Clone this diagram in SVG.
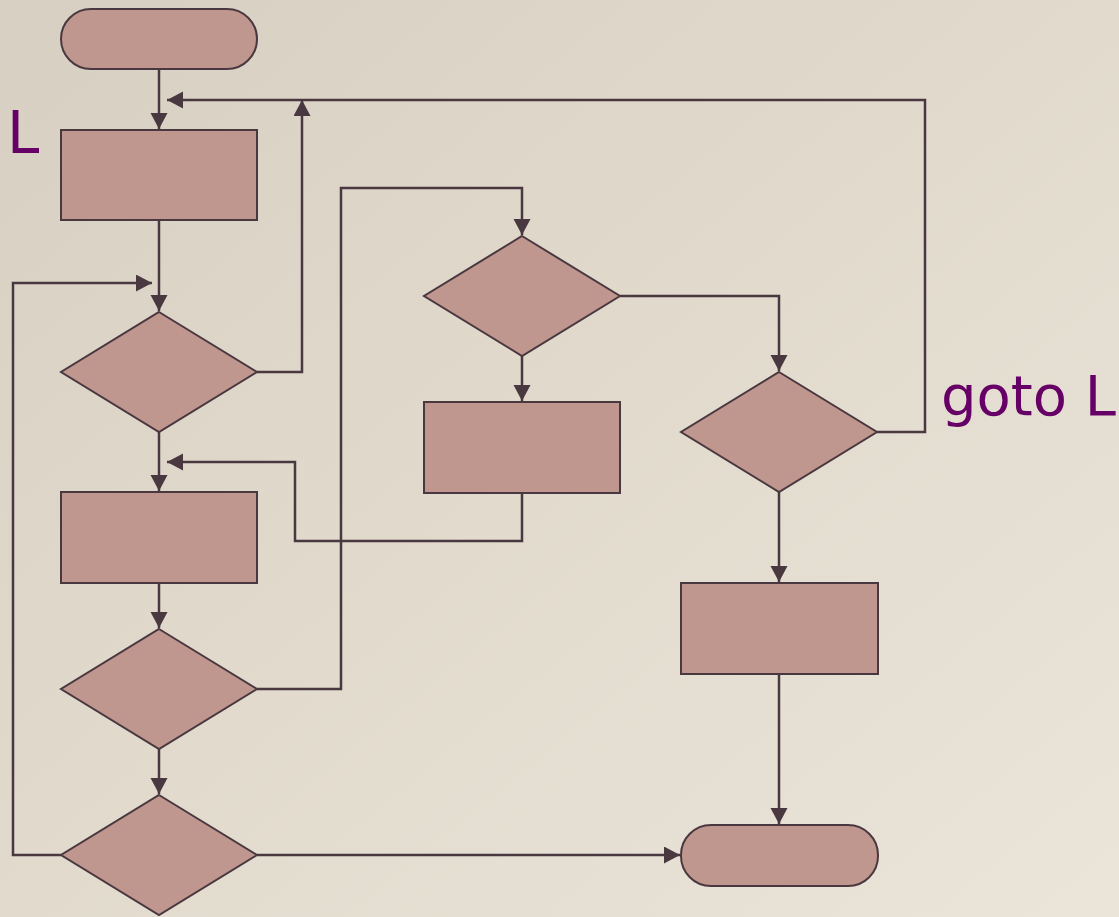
<svg xmlns="http://www.w3.org/2000/svg" width="1119" height="917" viewBox="0 0 1119 917">
  <defs>
    <linearGradient id="bg" x1="0" y1="0" x2="1" y2="1">
      <stop offset="0" stop-color="#d6cfc2"/>
      <stop offset="0.5" stop-color="#e1dacd"/>
      <stop offset="1" stop-color="#ebe4d9"/>
    </linearGradient>
    <marker id="arr" markerUnits="userSpaceOnUse" markerWidth="20" markerHeight="20" refX="16" refY="8.5" orient="auto">
      <path d="M0,0 L16,8.5 L0,17 z" fill="#4a3840"/>
    </marker>
  </defs>
  <style>
    .shape { fill: #c0978e; stroke: #4a3840; stroke-width: 2; }
    .conn { fill: none; stroke: #4a3840; stroke-width: 2.5; marker-end: url(#arr); }
    .lbl { font-family: "DejaVu Sans", "Liberation Sans", sans-serif; fill: #660066; }
  </style>
  <rect width="1119" height="917" fill="url(#bg)"/>

  <g id="connectors">
    <path class="conn" d="M159,69 V129"/>
    <path class="conn" d="M159,220 V311"/>
    <path class="conn" d="M159,432 V491"/>
    <path class="conn" d="M159,583 V628"/>
    <path class="conn" d="M159,749 V794"/>
    <path class="conn" d="M257,372 H302 V100"/>
    <path class="conn" d="M877,432 H925 V100 H167"/>
    <path class="conn" d="M61,855 H13 V283 H152"/>
    <path class="conn" d="M522,493 V541 H295 V462 H167"/>
    <path class="conn" d="M257,689 H341 V188 H522 V235"/>
    <path class="conn" d="M620,296 H779 V371"/>
    <path class="conn" d="M522,356 V401"/>
    <path class="conn" d="M779,492 V582"/>
    <path class="conn" d="M779,674 V824"/>
    <path class="conn" d="M257,855 H680"/>
  </g>

  <g id="start"><rect class="shape" x="61" y="9" width="196" height="60" rx="30" ry="30"/></g>
  <g id="rect1"><rect class="shape" x="61" y="130" width="196" height="90"/></g>
  <g id="diamond1"><polygon class="shape" points="159,312 257,372 159,432 61,372"/></g>
  <g id="rect2"><rect class="shape" x="61" y="492" width="196" height="91"/></g>
  <g id="diamond2"><polygon class="shape" points="159,629 257,689 159,749 61,689"/></g>
  <g id="diamond4"><polygon class="shape" points="159,795 257,855 159,915 61,855"/></g>
  <g id="diamond3"><polygon class="shape" points="522,236 620,296 522,356 424,296"/></g>
  <g id="rect3"><rect class="shape" x="424" y="402" width="196" height="91"/></g>
  <g id="diamond5"><polygon class="shape" points="779,372 877,432 779,492 681,432"/></g>
  <g id="rect4"><rect class="shape" x="681" y="583" width="197" height="91"/></g>
  <g id="end"><rect class="shape" x="681" y="825" width="197" height="61" rx="30" ry="30"/></g>

  <g id="labels">
    <text class="lbl" x="7" y="153" font-size="58">L</text>
    <text class="lbl" x="941" y="415" font-size="56">goto L</text>
  </g>
</svg>
